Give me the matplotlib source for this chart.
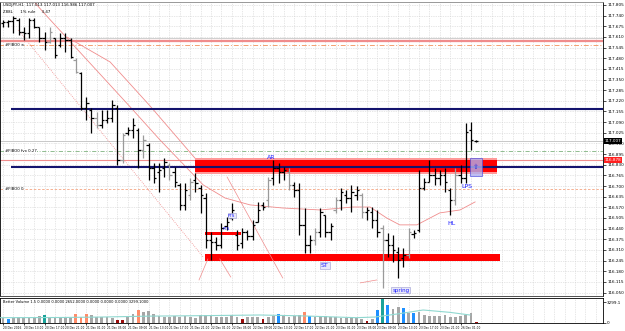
import numpy as np
import matplotlib.pyplot as plt
from matplotlib.patches import Rectangle

# hourly OHLC bars, USDJPY H1
bar_open = [117.695, 117.701, 117.707, 117.713, 117.640, 117.634, 117.713, 117.670, 117.603, 117.579,
            117.603, 117.560, 117.603, 117.591, 117.469, 117.390, 117.176, 117.164, 117.115, 117.073,
            117.103, 117.115, 117.176, 116.859, 117.024, 117.042, 117.042, 116.920, 116.951, 116.810,
            116.786, 116.810, 116.829, 116.786, 116.707, 116.585, 116.646, 116.737, 116.688, 116.627,
            116.371, 116.359, 116.341, 116.456, 116.505, 116.402, 116.353, 116.420, 116.395, 116.481,
            116.585, 116.615, 116.749, 116.810, 116.786, 116.786, 116.707, 116.676, 116.463, 116.341,
            116.371, 116.420, 116.524, 116.420, 116.554, 116.615, 116.646, 116.627, 116.646, 116.646,
            116.542, 116.542, 116.493, 116.444, 116.371, 116.341, 116.298, 116.261, 116.280, 116.408,
            116.432, 116.688, 116.725, 116.768, 116.749, 116.768, 116.676, 116.615, 116.768, 116.749,
            117.042, 116.975]
bar_high = [117.713, 117.713, 117.737, 117.725, 117.670, 117.725, 117.725, 117.670, 117.640, 117.670,
            117.603, 117.634, 117.634, 117.603, 117.481, 117.396, 117.243, 117.176, 117.152, 117.164,
            117.164, 117.225, 117.195, 117.024, 117.060, 117.115, 117.054, 117.012, 116.963, 116.841,
            116.841, 116.871, 116.841, 116.816, 116.719, 116.719, 116.749, 116.780, 116.707, 116.658,
            116.420, 116.389, 116.475, 116.511, 116.597, 116.432, 116.444, 116.432, 116.493, 116.603,
            116.603, 116.755, 116.859, 116.841, 116.816, 116.810, 116.725, 116.719, 116.566, 116.402,
            116.444, 116.566, 116.524, 116.475, 116.634, 116.688, 116.676, 116.707, 116.700, 116.658,
            116.572, 116.572, 116.554, 116.463, 116.414, 116.402, 116.328, 116.322, 116.444, 116.432,
            116.798, 116.749, 116.859, 116.810, 116.798, 116.810, 116.688, 116.810, 116.829, 117.085,
            117.091, 116.981]
bar_low = [117.670, 117.670, 117.634, 117.622, 117.591, 117.603, 117.664, 117.579, 117.530, 117.573,
           117.481, 117.548, 117.518, 117.481, 117.390, 117.164, 117.103, 117.024, 117.054, 117.054,
           117.085, 117.091, 116.829, 116.841, 117.012, 116.993, 116.810, 116.871, 116.737, 116.719,
           116.664, 116.755, 116.737, 116.694, 116.554, 116.554, 116.615, 116.664, 116.536, 116.322,
           116.249, 116.310, 116.322, 116.432, 116.493, 116.310, 116.322, 116.371, 116.371, 116.481,
           116.554, 116.572, 116.707, 116.719, 116.737, 116.676, 116.634, 116.402, 116.292, 116.292,
           116.341, 116.389, 116.389, 116.371, 116.536, 116.554, 116.597, 116.542, 116.615, 116.505,
           116.493, 116.444, 116.389, 116.078, 116.267, 116.237, 116.139, 116.206, 116.261, 116.383,
           116.420, 116.676, 116.725, 116.707, 116.707, 116.664, 116.524, 116.585, 116.719, 116.719,
           116.920, 116.969]
bar_close = [117.701, 117.707, 117.725, 117.640, 117.634, 117.713, 117.670, 117.603, 117.579, 117.640,
             117.500, 117.603, 117.591, 117.487, 117.396, 117.176, 117.207, 117.115, 117.073, 117.103,
             117.115, 117.195, 116.859, 117.012, 117.042, 117.073, 116.920, 116.981, 116.810, 116.749,
             116.798, 116.847, 116.768, 116.725, 116.585, 116.676, 116.725, 116.719, 116.646, 116.371,
             116.359, 116.341, 116.444, 116.481, 116.554, 116.341, 116.420, 116.395, 116.463, 116.554,
             116.572, 116.737, 116.810, 116.786, 116.798, 116.707, 116.676, 116.463, 116.341, 116.371,
             116.420, 116.542, 116.420, 116.456, 116.615, 116.664, 116.627, 116.664, 116.676, 116.542,
             116.554, 116.493, 116.420, 116.371, 116.341, 116.310, 116.249, 116.280, 116.420, 116.414,
             116.688, 116.725, 116.768, 116.749, 116.768, 116.725, 116.615, 116.768, 116.749, 117.030,
             116.981, 116.975]
gray_bars = [10, 15, 19, 24, 28, 33, 37, 52, 56, 61, 65, 70, 74, 79, 88]  # 1-based

volume = [800, 640, 850, 910, 750, 750, 850, 1070, 1280, 1010,
          910, 750, 850, 850, 1440, 910, 1390, 1280, 1010, 910,
          1010, 750, 480, 480, 1120, 1390, 2080, 1810, 1920, 1440,
          1170, 910, 1010, 1170, 1010, 1120, 1010, 850, 1280, 1280,
          1280, 1010, 1010, 1010, 1280, 1010, 640, 910, 910, 910,
          640, 1010, 1170, 1390, 1170, 910, 1170, 1280, 1810, 1170,
          1010, 1010, 1170, 910, 910, 800, 800, 910, 800, 640,
          320, 590, 2080, 3840, 2880, 2190, 2510, 2350, 1650, 1650,
          1810, 1280, 1170, 1170, 1170, 1280, 1010, 1010, 1170, 1280,
          1550, 210]
volume_kind = {2: "b", 9: "t", 15: "s", 16: "s", 17: "s", 23: "r", 24: "r", 27: "s",
               47: "r", 51: "r", 54: "b", 59: "s", 60: "b", 71: "r", 73: "b", 74: "t",
               75: "b", 78: "b", 80: "b", 92: "r"}
vol_ma_x = [-0.6, 11.0, 18.7, 28.3, 37.9, 49.4, 57.1, 67.9, 71.5, 76.3, 80.8, 86.0, 89.8]
vol_ma_y = [850, 880, 950, 1100, 1170, 1280, 1150, 850, 950, 1500, 2080, 1700, 1280]

ma_x = [6.2, 7.7, 25.0, 30.2, 38.5, 42.7, 47.5, 53.8, 61.0, 67.3, 70.6, 73.8, 76.3, 79.6, 84.0, 87.9, 90.8]
ma_y = [117.817, 117.762, 117.164, 116.981, 116.707, 116.627, 116.585, 116.566, 116.554, 116.572,
        116.572, 116.505, 116.463, 116.463, 116.536, 116.554, 116.603]

chan_x = [12.3, 20.6, 28.3, 36.9]
chan_y = [117.609, 117.457, 117.188, 116.871]
dot_x = [2.9, 38.5]
dot_y = [117.652, 116.267]
# short trend / fan lines (x0, y0, x1, y1)
fan_lines = [(39.4, 116.255, 37.7, 116.127),
             (41.7, 116.255, 43.8, 116.145),
             (43.1, 116.755, 53.8, 116.139),
             (68.7, 116.109, 71.9, 116.127)]

level_navy = [117.173, 116.815]
price_ticks = [round(117.805 - 0.065 * k, 3) for k in range(28)]
time_labels = ["20 Dec 2016", "20 Dec 13:00", "20 Dec 17:00", "20 Dec 21:00", "21 Dec 01:00",
               "21 Dec 05:00", "21 Dec 09:00", "21 Dec 13:00", "21 Dec 17:00", "21 Dec 21:00",
               "22 Dec 01:00", "22 Dec 05:00", "22 Dec 09:00", "22 Dec 13:00", "22 Dec 17:00",
               "22 Dec 21:00", "23 Dec 01:00", "23 Dec 05:00", "23 Dec 09:00", "23 Dec 13:00",
               "23 Dec 17:00", "23 Dec 21:00", "26 Dec 01:00"]

VOL_COLORS = {"g": "#a6a6a6", "b": "#1e90ff", "t": "#1aa39a", "s": "#ff8c69", "r": "#9b0d0d"}
PINK = "#f08c8c"
NAVY = "#14146e"

fig = plt.figure(figsize=(6.25, 3.31), dpi=100)
ax = fig.add_axes([0, 1 - 296 / 331, 603 / 625, 294 / 331])
axv = fig.add_axes([0, 1 - 323 / 331, 603 / 625, 25 / 331], sharex=ax)

n = len(bar_close)
idx = np.arange(n)
ax.set_xlim(-0.58, 115.4)
ax.set_ylim(116.029, 117.823)

# grid
for t in price_ticks:
    ax.axhline(t, color="#cfcfcf", lw=0.5, ls=(0, (1, 1.5)), zorder=0)
for gx in range(0, 116, 2):
    ax.axvline(gx, color="#cfcfcf", lw=0.5, ls=(0, (1, 1.5)), zorder=0)
    axv.axvline(gx, color="#cfcfcf", lw=0.5, ls=(0, (1, 1.5)), zorder=0)

# horizontal levels
ax.axhline(117.605, color="#c8c8c8", lw=0.6, zorder=1)
ax.axhline(117.594, color=PINK, lw=0.9, zorder=1)
ax.axhline(117.583, color=PINK, lw=0.9, zorder=1)
ax.axhline(117.561, color="#f4a070", lw=0.7, ls=(0, (5, 2, 1, 2)), zorder=1)
ax.axhline(116.975, color="#c8c8c8", lw=0.7, zorder=1)
ax.axhline(116.914, color="#7fb27f", lw=0.6, ls=(0, (5, 2, 1, 2)), zorder=1)
ax.axhline(116.859, color=PINK, lw=0.8, zorder=1)
ax.axhline(116.682, color="#f4a582", lw=0.6, ls=(0, (3, 2)), zorder=1)

# supply / demand zones
ax.add_patch(Rectangle((36.9, 116.775), 58.1, 0.095, color="#ff9a9a", lw=0, zorder=2))
ax.add_patch(Rectangle((36.9, 116.786), 58.1, 0.073, color="#ff0000", lw=0, zorder=2))
ax.add_patch(Rectangle((38.8, 116.243), 56.8, 0.043, color="#ff0000", lw=0, zorder=2))
ax.add_patch(Rectangle((38.8, 116.402), 7.0, 0.018, color="#ff0000", lw=0, zorder=2))

for lv in level_navy:
    ax.hlines(lv, 1.5, 115.4, color=NAVY, lw=1.5, zorder=3)

# channel lines and moving average
ax.plot(chan_x, chan_y, color=PINK, lw=0.6, zorder=2)
ax.plot(dot_x, dot_y, color=PINK, lw=0.6, ls=(0, (1, 1.5)), zorder=2)
ax.plot(ma_x, ma_y, color=PINK, lw=0.6, zorder=2)
for x0, y0, x1, y1 in fan_lines:
    ax.plot([x0, x1], [y0, y1], color=PINK, lw=0.5, zorder=2)

# OHLC bars
for i in idx:
    c = "#9a9a9a" if (i + 1) in gray_bars else "black"
    ax.vlines(i, bar_low[i], bar_high[i], color=c, lw=0.9, zorder=4)
    ax.hlines(bar_open[i], i - 0.45, i, color=c, lw=0.9, zorder=4)
    ax.hlines(bar_close[i], i, i + 0.45, color=c, lw=0.9, zorder=4)

# annotations
blue = "#1c1cff"
box = dict(boxstyle="square,pad=0.15", fc="#e8e8f8", ec="#9a9ad0", lw=0.4)
ax.text(51.5, 116.86, "AR", color=blue, fontsize=4.5, ha="center", va="bottom", zorder=5)
ax.text(61.9, 116.215, "ST", color=blue, fontsize=4.5, ha="center", va="center", zorder=5, bbox=box)
ax.text(76.5, 116.065, "spring", color=blue, fontsize=4, ha="center", va="center", zorder=5, bbox=box)
ax.text(86.3, 116.47, "HL", color=blue, fontsize=4.5, ha="center", va="center", zorder=5)
ax.text(89.2, 116.695, "LPS", color=blue, fontsize=4.5, ha="center", va="center", zorder=5)
ax.text(44.0, 116.52, "FTS", color=blue, fontsize=3, ha="center", va="center", zorder=5,
        bbox=dict(boxstyle="square,pad=0.1", fc="#e8e8f8", ec="#9a9ad0", lw=0.4))
ax.text(42.9, 116.44, "FTS", color=blue, fontsize=3, ha="center", va="center", zorder=5)
ax.add_patch(Rectangle((89.8, 116.76), 2.3, 0.11, fc="#b0b0f0", ec="#5050e0", lw=0.6, alpha=0.8, zorder=5))
ax.text(90.95, 116.815, "⇧", color="#3030e0", fontsize=5, ha="center", va="center", zorder=6)

ax.text(0.005, 0.995, "USDJPY,H1  117.013 117.013 116.986 117.007", transform=ax.transAxes,
        fontsize=2.8, va="top", ha="left")
ax.text(0.005, 0.972, "Z88L      1% rule     3.47", transform=ax.transAxes,
        fontsize=2.8, va="top", ha="left")
wbox = dict(boxstyle="square,pad=0.05", fc="white", ec="none")
ax.text(0.3, 117.561, "#FIBO0 ∞", fontsize=2.8, va="center", ha="left", zorder=5, bbox=wbox)
ax.text(0.3, 116.914, "#FIBO0 fvx 0.27", fontsize=2.8, va="center", ha="left", zorder=5, bbox=wbox)
ax.text(0.3, 116.682, "#FIBO0 0", fontsize=2.8, va="center", ha="left", zorder=5, bbox=wbox)

# price axis on the right
ax.yaxis.tick_right()
ax.set_yticks(price_ticks)
ax.set_yticklabels([f"{t:.3f}" for t in price_ticks], fontsize=3)
ax.tick_params(axis="y", length=2, width=0.5, pad=1)
ax.tick_params(axis="x", bottom=False, labelbottom=False)
ax.text(1.002, 116.859, "116.878", transform=ax.get_yaxis_transform(), fontsize=3, color="white",
        va="center", ha="left", bbox=dict(boxstyle="square,pad=0.15", fc="#ff2020", ec="none"))
ax.text(1.002, 116.975, "117.007", transform=ax.get_yaxis_transform(), fontsize=3, color="white",
        va="center", ha="left", bbox=dict(boxstyle="square,pad=0.15", fc="black", ec="none"))
for s in ["top", "right", "left", "bottom"]:
    ax.spines[s].set_linewidth(0.6)
ax.spines["top"].set_color("#888888")
ax.spines["bottom"].set_color("#333333")

# volume panel
vcols = [VOL_COLORS[volume_kind.get(i + 1, "g")] for i in idx]
axv.bar(idx, volume, width=0.55, color=vcols, zorder=2)
axv.plot(vol_ma_x, vol_ma_y, color="#8fd8d0", lw=0.8, zorder=3)
axv.set_ylim(0, 4000)
axv.yaxis.tick_right()
axv.set_yticks([3299.1, 0])
axv.set_yticklabels(["3299.1", "0"], fontsize=3)
axv.tick_params(axis="y", length=2, width=0.5, pad=1)
axv.set_xticks(np.arange(0, n, 4))
axv.set_xticklabels(time_labels, fontsize=2.1)
axv.tick_params(axis="x", length=1.5, width=0.5, pad=1)
for lab in axv.get_xticklabels():
    lab.set_horizontalalignment("left")
axv.text(0.005, 0.93, "Better Volume 1.5 0.0000 0.0000 2652.0000 0.0000 0.0000 0.0000 3299.1000",
         transform=axv.transAxes, fontsize=2.6, va="top", ha="left")
for s in axv.spines.values():
    s.set_linewidth(0.6)

fig.savefig("out.png", dpi=100, facecolor="white")
